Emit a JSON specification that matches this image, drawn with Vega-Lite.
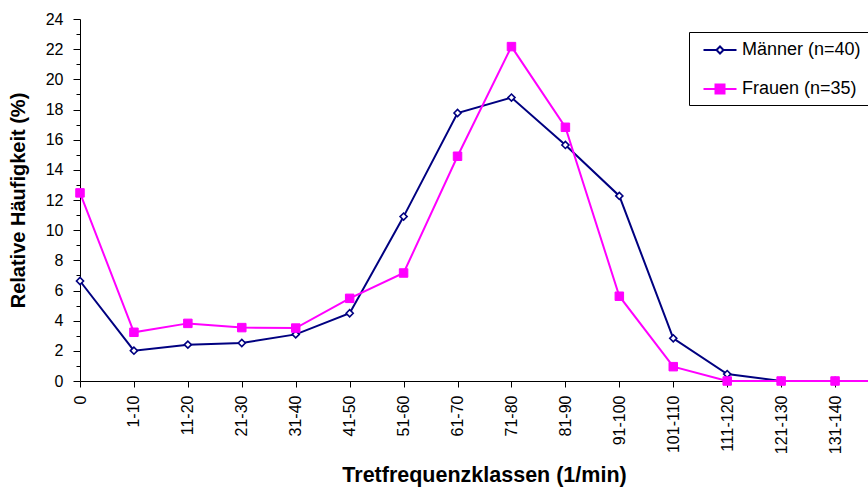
{
  "$schema": "https://vega.github.io/schema/vega-lite/v6.json",
  "autosize": {"type": "none"},
  "padding": {"left": 80, "top": 19, "right": 0, "bottom": 108},
  "width": 788,
  "height": 362,
  "background": "white",
  "config": {
    "view": {"stroke": null},
    "font": "Liberation Sans",
    "axis": {"grid": false, "domainColor": "black", "tickColor": "black", "labelColor": "black", "titleColor": "black", "labelFont": "Liberation Sans", "titleFont": "Liberation Sans"}
  },
  "data": {
    "values": [
      {"klasse": "0", "serie": "Männer (n=40)", "wert": 6.63},
      {"klasse": "1-10", "serie": "Männer (n=40)", "wert": 2.01},
      {"klasse": "11-20", "serie": "Männer (n=40)", "wert": 2.41},
      {"klasse": "21-30", "serie": "Männer (n=40)", "wert": 2.52},
      {"klasse": "31-40", "serie": "Männer (n=40)", "wert": 3.09},
      {"klasse": "41-50", "serie": "Männer (n=40)", "wert": 4.49},
      {"klasse": "51-60", "serie": "Männer (n=40)", "wert": 10.9},
      {"klasse": "61-70", "serie": "Männer (n=40)", "wert": 17.77},
      {"klasse": "71-80", "serie": "Männer (n=40)", "wert": 18.79},
      {"klasse": "81-90", "serie": "Männer (n=40)", "wert": 15.65},
      {"klasse": "91-100", "serie": "Männer (n=40)", "wert": 12.27},
      {"klasse": "101-110", "serie": "Männer (n=40)", "wert": 2.83},
      {"klasse": "111-120", "serie": "Männer (n=40)", "wert": 0.46},
      {"klasse": "121-130", "serie": "Männer (n=40)", "wert": 0},
      {"klasse": "131-140", "serie": "Männer (n=40)", "wert": 0},
      {"klasse": "141-150", "serie": "Männer (n=40)", "wert": 0},
      {"klasse": "0", "serie": "Frauen (n=35)", "wert": 12.47},
      {"klasse": "1-10", "serie": "Frauen (n=35)", "wert": 3.23},
      {"klasse": "11-20", "serie": "Frauen (n=35)", "wert": 3.82},
      {"klasse": "21-30", "serie": "Frauen (n=35)", "wert": 3.54},
      {"klasse": "31-40", "serie": "Frauen (n=35)", "wert": 3.51},
      {"klasse": "41-50", "serie": "Frauen (n=35)", "wert": 5.48},
      {"klasse": "51-60", "serie": "Frauen (n=35)", "wert": 7.16},
      {"klasse": "61-70", "serie": "Frauen (n=35)", "wert": 14.9},
      {"klasse": "71-80", "serie": "Frauen (n=35)", "wert": 22.17},
      {"klasse": "81-90", "serie": "Frauen (n=35)", "wert": 16.82},
      {"klasse": "91-100", "serie": "Frauen (n=35)", "wert": 5.62},
      {"klasse": "101-110", "serie": "Frauen (n=35)", "wert": 0.95},
      {"klasse": "111-120", "serie": "Frauen (n=35)", "wert": 0},
      {"klasse": "121-130", "serie": "Frauen (n=35)", "wert": 0},
      {"klasse": "131-140", "serie": "Frauen (n=35)", "wert": 0},
      {"klasse": "141-150", "serie": "Frauen (n=35)", "wert": 0}
    ]
  },
  "encoding": {
    "x": {
      "field": "klasse", "type": "ordinal", "sort": null,
      "scale": {"type": "point", "padding": 0, "range": [0, 809]},
      "axis": {
        "title": "Tretfrequenzklassen (1/min)", "titleFontSize": 21.5, "titleFontWeight": "bold",
        "titleX": 404, "titleY": 94, "titleAlign": "center", "titleBaseline": "middle", "titleAnchor": null,
        "labelAngle": -90, "labelFontSize": 16, "labelPadding": 8, "tickSize": 6, "labelOverlap": false, "domainWidth": 1,
        "labelExpr": "datum.value === '141-150' ? '' : datum.label"
      }
    },
    "y": {
      "field": "wert", "type": "quantitative",
      "scale": {"domain": [0, 24], "nice": false, "zero": true},
      "axis": {
        "title": "Relative Häufigkeit (%)", "titleFontSize": 20, "titleFontWeight": "bold",
        "titleX": -62, "titleY": 181, "titleAngle": 270, "titleAlign": "center", "titleBaseline": "middle", "titleAnchor": null,
        "values": [0,1,2,3,4,5,6,7,8,9,10,11,12,13,14,15,16,17,18,19,20,21,22,23,24],
        "labelExpr": "datum.value % 2 == 0 ? datum.label : ''",
        "tickSize": {"condition": {"test": "datum.value % 2 == 0", "value": 7}, "value": 4},
        "labelFontSize": 16, "labelPadding": 10, "domainWidth": 1
      }
    }
  },
  "layer": [
    {
      "mark": {"type": "line", "strokeWidth": 2},
      "encoding": {
        "color": {
          "field": "serie", "type": "nominal",
          "scale": {"domain": ["Männer (n=40)", "Frauen (n=35)"], "range": ["#000080", "#ff00ff"]},
          "legend": {
            "title": null, "orient": "none", "legendX": 609, "legendY": 13,
            "strokeColor": "black", "fillColor": "white", "padding": 7,
            "labelFontSize": 18, "labelColor": "black", "labelFont": "Liberation Sans",
            "symbolSize": 400, "symbolStrokeWidth": 2, "symbolOffset": 13, "labelOffset": 11, "rowPadding": 19,
            "encode": {
              "symbols": {
                "update": {
                  "shape": {"signal": "datum.value === 'Frauen (n=35)' ? 'M-1.65,0H1.65M-0.45,-0.45H0.45V0.45H-0.45Z' : 'M-1.65,0H-0.35M0.35,0H1.65M-0.35,0L0,-0.35L0.35,0L0,0.35Z'"},
                  "fill": {"signal": "datum.value === 'Frauen (n=35)' ? '#ff00ff' : '#ffffff'"},
                  "fillOpacity": {"value": 1}
                }
              }
            }
          }
        }
      }
    },
    {
      "transform": [{"filter": "datum.serie === 'Männer (n=40)'"}],
      "mark": {"type": "point", "shape": "diamond", "size": 50, "filled": true, "fill": "white", "stroke": "#000080", "strokeWidth": 1.6, "opacity": 1}
    },
    {
      "transform": [{"filter": "datum.serie === 'Frauen (n=35)'"}],
      "mark": {"type": "point", "shape": "square", "size": 72, "filled": true, "fill": "#ff00ff", "stroke": "#ff00ff", "strokeWidth": 1, "opacity": 1}
    }
  ]
}
